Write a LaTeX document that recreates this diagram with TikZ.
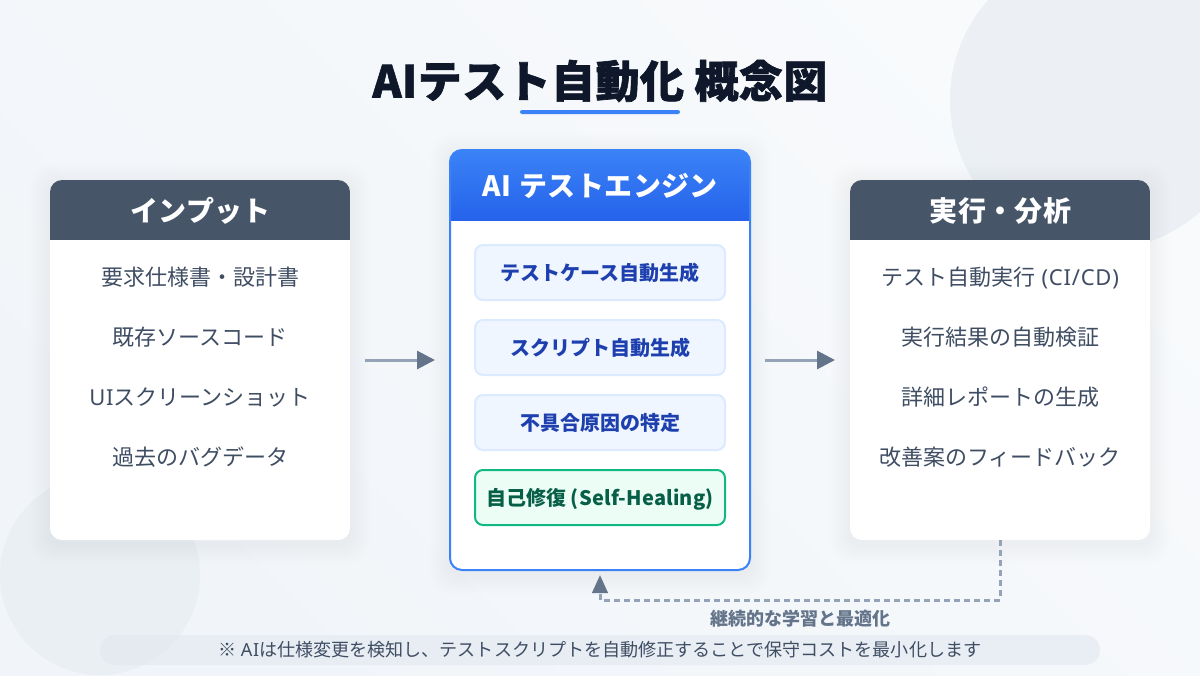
\documentclass[tikz,border=0pt]{standalone}
\usepackage{fontspec}
\setmainfont{Noto Sans CJK JP}
\newfontfamily\lat[LetterSpace=3.5]{Noto Sans}
\usetikzlibrary{arrows.meta}
\definecolor{bgA}{HTML}{F8FAFC}
\definecolor{bgB}{HTML}{F1F5F9}
\definecolor{blobC}{HTML}{E8EDF3}
\definecolor{titleC}{HTML}{0F172A}
\definecolor{blueA}{HTML}{3B82F6}
\definecolor{blueB}{HTML}{2563EB}
\definecolor{slateH}{HTML}{475569}
\definecolor{rowC}{HTML}{3F4D63}
\definecolor{itemF}{HTML}{EFF6FF}
\definecolor{itemL}{HTML}{DBEAFE}
\definecolor{itemT}{HTML}{1E40AF}
\definecolor{healF}{HTML}{ECFDF5}
\definecolor{healL}{HTML}{10B981}
\definecolor{healT}{HTML}{065F46}
\definecolor{arrL}{HTML}{94A3B8}
\definecolor{arrH}{HTML}{64748B}
\definecolor{barF}{HTML}{E2E8F0}
\newcommand{\softshadow}[4]{% x1,y1,x2,y2 in px
  \foreach \g in {1,...,10}{
    \fill[black,opacity=0.0035,rounded corners=9pt+0.75pt*\g]
      ({#1-2*\g},{#2+4-2*\g}) rectangle ({#3+2*\g},{#4+4+2*\g});
  }}
\tikzset{
  card/.style={rectangle,fill=white,rounded corners=9pt,inner sep=0pt,outer sep=0pt,minimum width=225pt,minimum height=270pt},
  headtext/.style={text=white,font=\fontsize{21pt}{25pt}\selectfont\bfseries\addfontfeature{LetterSpace=1.3},inner sep=0pt,text height=17.2pt,text depth=0pt},
  rowtext/.style={text=rowC,font=\fontsize{16.5pt}{20pt}\selectfont,inner sep=0pt,text height=13.3pt,text depth=0pt},
  itembox/.style={rectangle,rounded corners=6pt,draw=itemL,line width=1.5pt,fill=itemF,text=itemT,
    font=\fontsize{15pt}{18pt}\selectfont\bfseries,minimum width=187.5pt,minimum height=41.25pt,inner sep=0pt,outer sep=0pt,text height=12.2pt,text depth=0pt},
  healbox/.style={itembox,draw=healL,fill=healF,text=healT},
  flow/.style={draw=arrL,line width=2.25pt,shorten <=11.25pt,shorten >=11.25pt,
    -{Triangle[length=13.5pt,width=13.5pt,color=arrH,fill=arrH]}},
  loopback/.style={draw=arrL,line width=2.25pt,dash pattern=on 4.5pt off 3pt,shorten >=3.75pt,
    -{Triangle[length=13.5pt,width=11.5pt,color=arrH,fill=arrH,sep=0pt]}},
}
\begin{document}
\begin{tikzpicture}[x=0.75pt,y=-0.75pt]
\useasboundingbox (0,0) rectangle (1200,675);
\shade[left color=bgA,right color=bgB,shading angle=-45] (0,0) rectangle (1200,675);
\begin{scope}
\clip (0,0) rectangle (1200,675);
\fill[blobC,opacity=.75] (1100,100) circle[radius=150];
\fill[blobC,opacity=.75] (100,575) circle[radius=100];
\end{scope}

% title
\node[text=titleC,font=\fontsize{33pt}{40pt}\selectfont\bfseries\addfontfeature{FakeBold=1.5,LetterSpace=1.0},inner sep=0pt] (title) at (600,81) {AIテスト自動化 概念図};
\fill[blueA,rounded corners=1.5pt] (520,110) rectangle (680,114);

% input card
\softshadow{50}{180}{350}{540}
\node[card] (input) at (200,360) {};
\begin{scope}
\clip[rounded corners=9pt] (50,180) rectangle (350,540);
\fill[slateH] (50,180) rectangle (350,240);
\end{scope}
\node[headtext] (inputh) at (200.5,210) {インプット};
\node[rowtext] (i1) at (200,277) {要求仕様書・設計書};
\node[rowtext] (i2) at (200,337) {既存ソースコード};
\node[rowtext] (i3) at (200,397) {{\lat UI}スクリーンショット};
\node[rowtext] (i4) at (200,457) {過去のバグデータ};

% exec card
\softshadow{850}{180}{1150}{540}
\node[card] (exec) at (1000,360) {};
\begin{scope}
\clip[rounded corners=9pt] (850,180) rectangle (1150,540);
\fill[slateH] (850,180) rectangle (1150,240);
\end{scope}
\node[headtext] (exech) at (1000.5,210) {実行・分析};
\node[rowtext] (e1) at (1000,277) {テスト自動実行{\lat\ (CI/CD)}};
\node[rowtext] (e2) at (1000,337) {実行結果の自動検証};
\node[rowtext] (e3) at (1000,397) {詳細レポートの生成};
\node[rowtext] (e4) at (1000,457) {改善案のフィードバック};

% engine card
\softshadow{450}{150}{750}{570}
\node[card,minimum width=225pt,minimum height=315pt] (engine) at (600,360) {};
\begin{scope}
\clip[rounded corners=9pt] (450,150) rectangle (750,570);
\shade[top color=blueA,bottom color=blueB] (450,150) rectangle (750,220);
\end{scope}
\draw[blueA,line width=1.5pt,rounded corners=9pt] (450,150) rectangle (750,570);
\node[headtext] (engineh) at (600,185) {AI\hspace{1.5pt} テストエンジン};
\node[itembox] (m1) at (600,272.5) {テストケース自動生成};
\node[itembox] (m2) at (600,347.5) {スクリプト自動生成};
\node[itembox] (m3) at (600,422.5) {不具合原因の特定};
\node[healbox] (m4) at (600,497.5) {自己修復{\addfontfeature{LetterSpace=1}\ (Self-Healing)}};

% connectors
\draw[flow] (input.east) -- (engine.west);
\draw[flow] (engine.east) -- (exec.west);
\coordinate (fbcorner) at (1000,600);
\draw[loopback] (exec.south) -- (fbcorner) -| (engine.south);

\node[text=arrH,font=\fontsize{13.5pt}{16pt}\selectfont\bfseries,inner sep=0pt] (fblabel) at (800,619) {継続的な学習と最適化};

% note bar
\node[rectangle,rounded corners=11.25pt,fill=barF,fill opacity=.6,text opacity=1,text=rowC,minimum width=750pt,minimum height=22.5pt,inner sep=0pt,font=\fontsize{13.55pt}{16pt}\selectfont] (note) at (600,650) {※ {\lat AI}は仕様変更を検知し、テストスクリプトを自動修正することで保守コストを最小化します};
\end{tikzpicture}
\end{document}
